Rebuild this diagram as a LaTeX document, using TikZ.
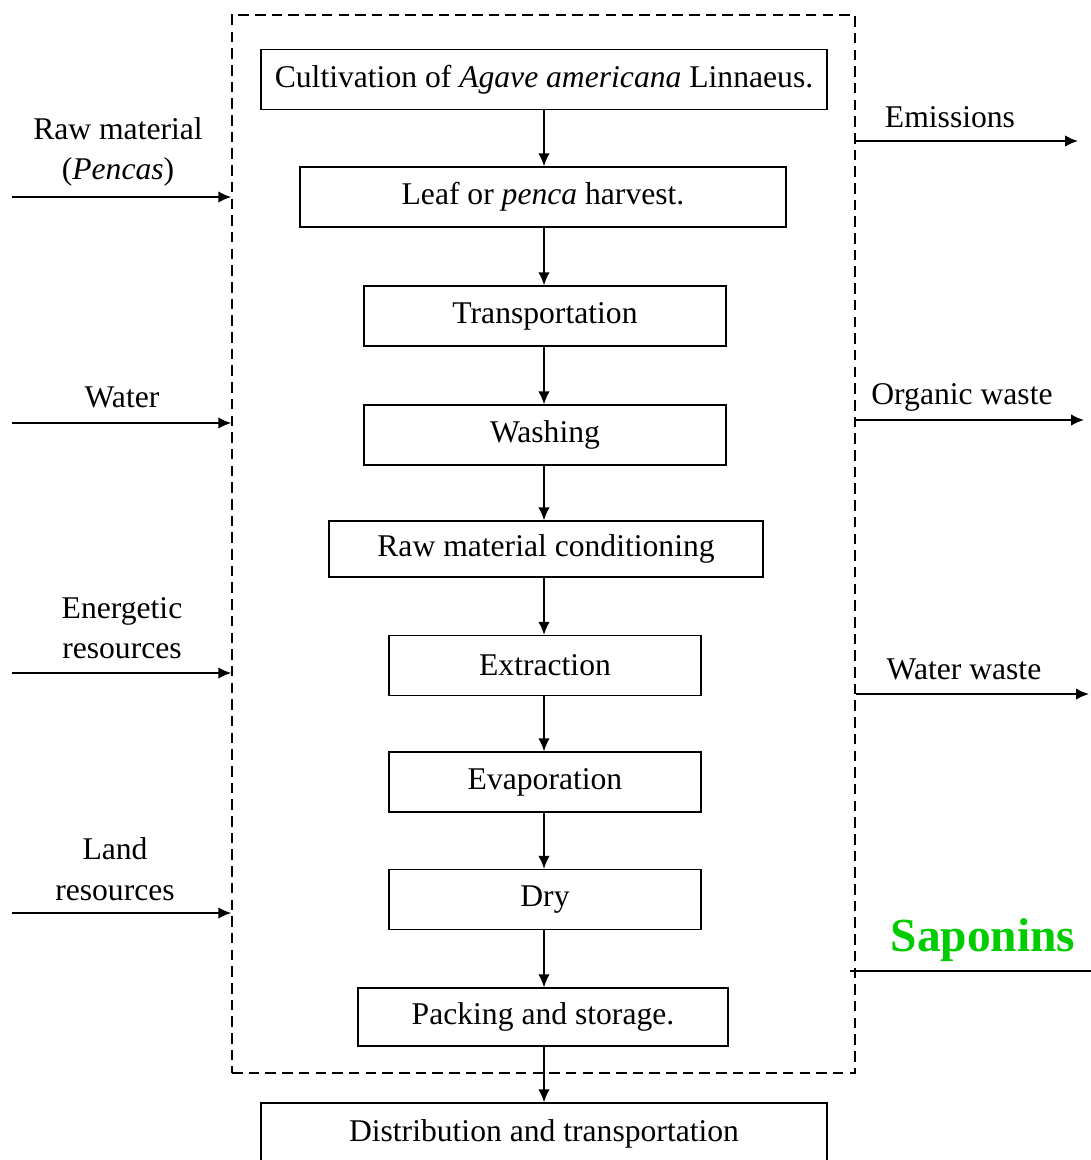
\documentclass[tikz,border=0pt]{standalone}
\usepackage{fontspec}
\setmainfont{Liberation Serif}
\usepackage{xcolor}
\usetikzlibrary{positioning,arrows.meta}
\definecolor{sapgreen}{RGB}{0,204,0}
\tikzset{
    stage/.style={draw, line width=0.8pt, minimum height=1.2cm, inner sep=2pt,
        font=\fontsize{18}{21}\selectfont},
    flowlabel/.style={align=center, font=\fontsize{18}{23}\selectfont},
    flow/.style={-{Latex[length=2.6mm,width=2.3mm]}, line width=0.9pt}
}

\begin{document}
\begin{tikzpicture}[x=0.02cm,y=-0.02cm]
		\useasboundingbox (0,0) rectangle (1091,1160);

		% system boundary
		\node[draw, dash pattern=on 6pt off 3.5pt, line width=0.9pt, minimum width=12.46cm, minimum height=21.16cm] (frame) at (543.5,544) {};

		% process chain
		\node[stage, minimum width=11.32cm] (cult) at (544,79.5) {Cultivation of \textit{Agave americana} Linnaeus.};
		\node[stage, minimum width=9.72cm] (harv) at (543,197) {Leaf or \textit{penca} harvest.};
		\node[stage, minimum width=7.24cm] (trans) at (545,316) {Transportation};
		\node[stage, minimum width=7.24cm] (wash) at (545,435) {Washing};
		\node[stage, minimum width=8.68cm, minimum height=1.12cm] (cond) at (546,549) {Raw material conditioning};
		\node[stage, minimum width=6.24cm] (extr) at (545,665.5) {Extraction};
		\node[stage, minimum width=6.24cm] (evap) at (545,782) {Evaporation};
		\node[stage, minimum width=6.24cm] (dry) at (545,899.5) {Dry};
		\node[stage, minimum width=7.4cm, minimum height=1.16cm] (pack) at (543,1017) {Packing and storage.};
		\node[stage, minimum width=11.32cm, minimum height=1.24cm] (distr) at (544,1134) {Distribution and transportation};

		\coordinate (spine) at (544,0);
		\draw[flow] (spine |- cult.south) -- (spine |- harv.north);
		\draw[flow] (spine |- harv.south) -- (spine |- trans.north);
		\draw[flow] (spine |- trans.south) -- (spine |- wash.north);
		\draw[flow] (spine |- wash.south) -- (spine |- cond.north);
		\draw[flow] (spine |- cond.south) -- (spine |- extr.north);
		\draw[flow] (spine |- extr.south) -- (spine |- evap.north);
		\draw[flow] (spine |- evap.south) -- (spine |- dry.north);
		\draw[flow] (spine |- dry.south) -- (spine |- pack.north);
		\draw[flow] (spine |- pack.south) -- (spine |- distr.north);

		% inputs
		\coordinate (rawin) at (12,197);
		\coordinate (waterin) at (12,423);
		\coordinate (energyin) at (12,673);
		\coordinate (landin) at (12,913);
		\node[flowlabel] (rawlbl) at (118,152) {Raw material\\(\textit{Pencas})};
		\node[flowlabel] (waterlbl) at (122,397) {Water};
		\node[flowlabel] (energylbl) at (122,628) {Energetic\\resources};
		\node[flowlabel] (landlbl) at (115,869) {Land\\resources};
		\draw[flow] (rawin) -- (frame.west |- rawin);
		\draw[flow] (waterin) -- (frame.west |- waterin);
		\draw[flow] (energyin) -- (frame.west |- energyin);
		\draw[flow] (landin) -- (frame.west |- landin);

		% outputs
		\coordinate (emisout) at (1078,141);
		\coordinate (orgout) at (1084,420);
		\coordinate (wwout) at (1089,694);
		\coordinate (sapout) at (1100,971);
		\node[flowlabel] (emislbl) at (950,117) {Emissions};
		\node[flowlabel] (orglbl) at (962,397) {Organic waste};
		\node[flowlabel] (wwlbl) at (964,669) {Water waste};
		\node[font=\fontsize{27}{30}\selectfont\bfseries, text=sapgreen] (saplbl) at (983,940) {Saponins};
		\draw[flow] (frame.east |- emisout) -- (emisout);
		\draw[flow] (frame.east |- orgout) -- (orgout);
		\draw[flow] (frame.east |- wwout) -- (wwout);
		\draw[line width=0.9pt] ([xshift=-3pt]frame.east |- sapout) -- (sapout);

	\end{tikzpicture}
\end{document}
